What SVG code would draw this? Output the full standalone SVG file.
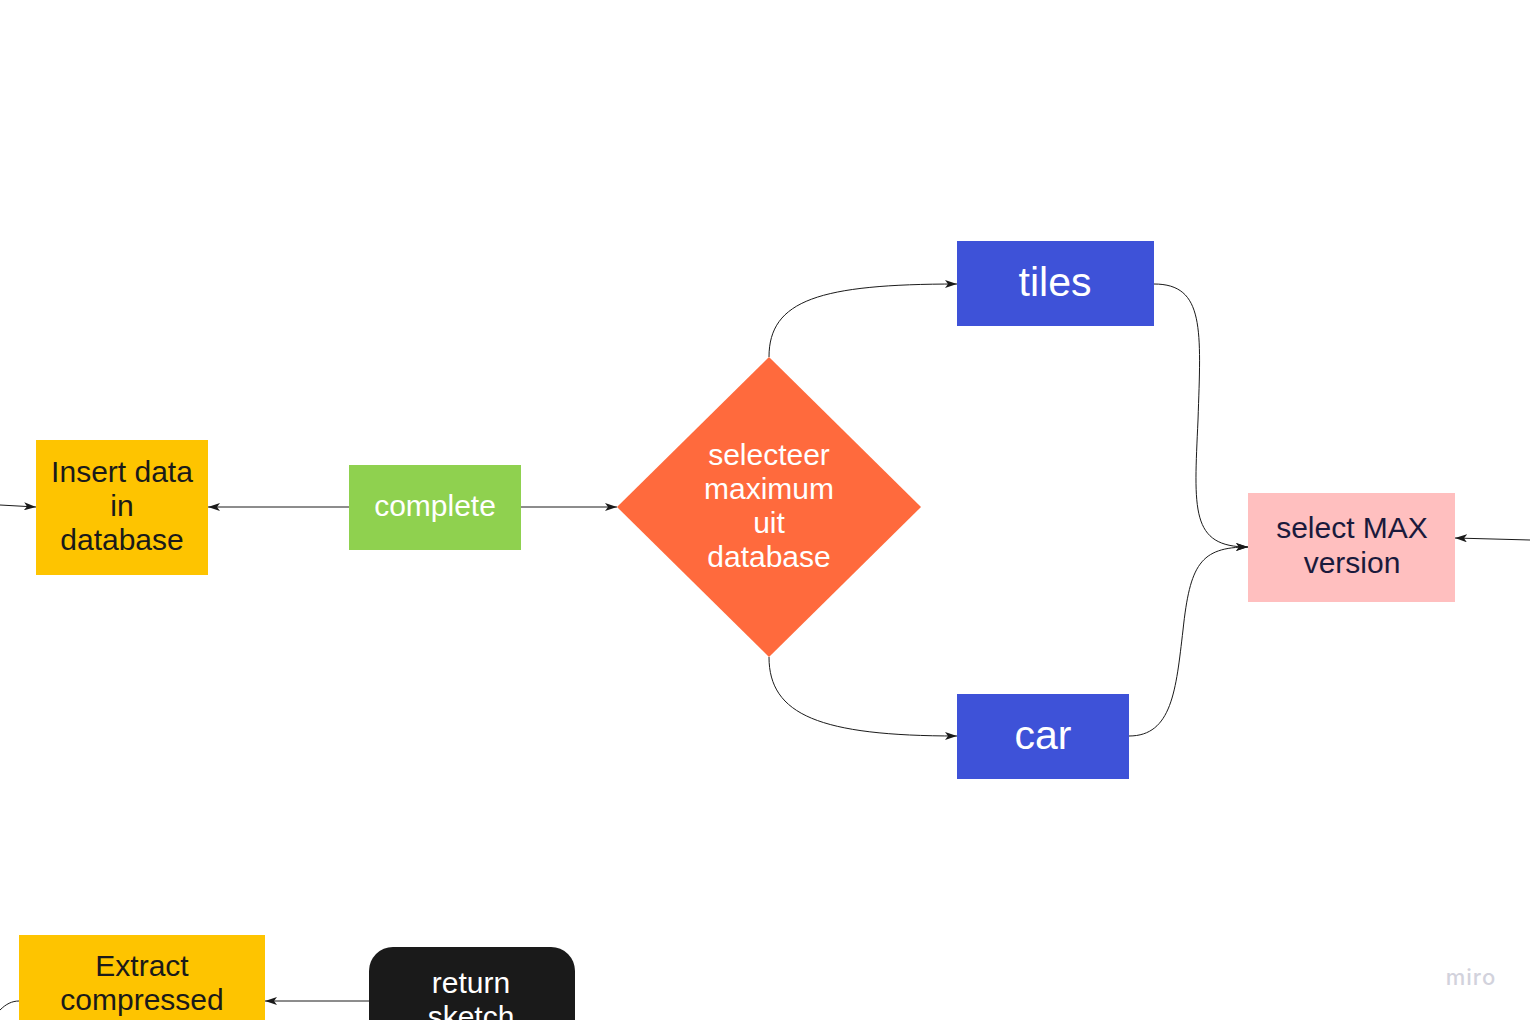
<svg xmlns="http://www.w3.org/2000/svg" width="1530" height="1020" viewBox="0 0 1530 1020">
  <style>
    .lbl { font-family: "Liberation Sans", Arial, sans-serif; font-size: 30px; text-anchor: middle; }
    .big { font-size: 41px; }
    .dark { fill: #1a1a1a; }
    .light { fill: #ffffff; }
    .navy { fill: #1a1a3c; }
    .edge { fill: none; stroke: #1a1a1a; stroke-width: 1; }
  </style>
  <defs>
    <marker id="arrow" viewBox="0 0 12 8" refX="12" refY="4" markerWidth="12" markerHeight="8" markerUnits="userSpaceOnUse" orient="auto">
      <path d="M0,0 L12,4 L0,8 L3,4 Z" fill="#1a1a1a"/>
    </marker>
  </defs>
  <rect width="1530" height="1020" fill="#ffffff"/>

  <g id="connectors">
    <path class="edge" d="M0,505 L36,507" marker-end="url(#arrow)"/>
    <path class="edge" d="M349,507 L208,507" marker-end="url(#arrow)"/>
    <path class="edge" d="M521,507 L617,507" marker-end="url(#arrow)"/>
    <path class="edge" d="M769,357 C769,300 820,284 957,284" marker-end="url(#arrow)"/>
    <path class="edge" d="M769,657 C769,715 820,736 957,736" marker-end="url(#arrow)"/>
    <path class="edge" d="M1154,284 C1205,284 1201,330 1198,420 C1194,510 1190,547 1248,547" marker-end="url(#arrow)"/>
    <path class="edge" d="M1129,736 C1172,736 1176,690 1183,630 C1190,565 1200,547 1248,547" marker-end="url(#arrow)"/>
    <path class="edge" d="M1530,540 L1455,538" marker-end="url(#arrow)"/>
    <path class="edge" d="M0,1010 C6,1004 12,1001 19,1001"/>
    <path class="edge" d="M369,1001 L265,1001" marker-end="url(#arrow)"/>
  </g>

  <g id="insert-data">
    <rect x="36" y="440" width="172" height="135" fill="#fec400"/>
    <text class="lbl dark" x="122" y="482">Insert data</text>
    <text class="lbl dark" x="122" y="516">in</text>
    <text class="lbl dark" x="122" y="550">database</text>
  </g>

  <g id="complete">
    <rect x="349" y="465" width="172" height="85" fill="#8fd14f"/>
    <text class="lbl light" x="435" y="516">complete</text>
  </g>

  <g id="select-max-decision">
    <polygon points="769,357 921,507 769,657 617,507" fill="#ff6a3d"/>
    <text class="lbl light" x="769" y="465">selecteer</text>
    <text class="lbl light" x="769" y="499">maximum</text>
    <text class="lbl light" x="769" y="533">uit</text>
    <text class="lbl light" x="769" y="567">database</text>
  </g>

  <g id="tiles">
    <rect x="957" y="241" width="197" height="85" fill="#3e52d8"/>
    <text class="lbl big light" x="1055" y="296">tiles</text>
  </g>

  <g id="car">
    <rect x="957" y="694" width="172" height="85" fill="#3e52d8"/>
    <text class="lbl big light" x="1043" y="749">car</text>
  </g>

  <g id="select-max-version">
    <rect x="1248" y="493" width="207" height="109" fill="#ffbfbf"/>
    <text class="lbl navy" x="1352" y="538">select MAX</text>
    <text class="lbl navy" x="1352" y="573">version</text>
  </g>

  <g id="extract-compressed">
    <rect x="19" y="935" width="246" height="95" fill="#fec400"/>
    <text class="lbl dark" x="142" y="976">Extract</text>
    <text class="lbl dark" x="142" y="1010">compressed</text>
  </g>

  <g id="return-sketch">
    <rect x="369" y="947" width="206" height="110" rx="24" fill="#1a1a1a"/>
    <text class="lbl light" x="471" y="993">return</text>
    <text class="lbl light" x="471" y="1027">sketch</text>
  </g>

  <text x="1471" y="985" font-family="Inter, 'Liberation Sans', sans-serif" font-size="22" font-weight="500" fill="#d2d2dc" text-anchor="middle" letter-spacing="1">miro</text>
</svg>
